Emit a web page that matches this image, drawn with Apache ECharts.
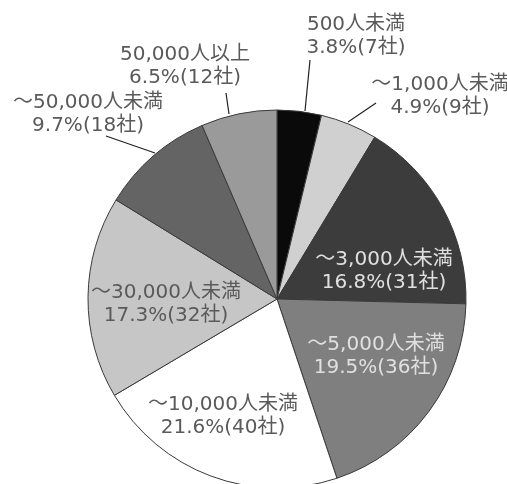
<!DOCTYPE html>
<html><head><meta charset="utf-8">
<script src="https://cdn.jsdelivr.net/npm/echarts@6/dist/echarts.min.js"></script>
<style>html,body{margin:0;padding:0;background:#fff}#c{width:507px;height:484px}</style>
</head><body><div id="c"></div>
<script>
const categories = ['500人未満','～1,000人未満','～3,000人未満','～5,000人未満','～10,000人未満','～30,000人未満','～50,000人未満','50,000人以上'];
const companies = [7, 9, 31, 36, 40, 32, 18, 12];
const shares = ['3.8', '4.9', '16.8', '19.5', '21.6', '17.3', '9.7', '6.5'];

const colors = ['#0a0a0a','#d0d0d0','#3c3c3c','#7f7f7f','#ffffff','#c6c6c6','#646464','#9a9a9a'];
const textColors = ['#5a5a5a','#5a5a5a','#e0e0e0','#e0e0e0','#5a5a5a','#5a5a5a','#5a5a5a','#5a5a5a'];
const labelPos = [[356,36],[440,96],[384,271],[376,356],[223,416],[166,304],[88,114],[185,66]];
const linePts = [[[305,111],[310,60]],[[348,122],[376,103]],null,null,null,null,[[155,153],[106,136]],[[229,114],[226,93]]];

const chart = echarts.init(document.getElementById('c'), null, {renderer:'canvas'});
chart.setOption({
  backgroundColor: '#fff',
  animation: false,
  series: [{
    type: 'pie',
    center: [277, 299],
    radius: 189,
    startAngle: 90,
    clockwise: true,
    avoidLabelOverlap: false,
    itemStyle: { borderColor: '#3a3a3a', borderWidth: 1 },
    label: {
      show: true,
      position: 'outside',
      fontFamily: '"DejaVu Sans", "Noto Sans CJK JP", sans-serif',
      fontSize: 20,
      lineHeight: 23,
      align: 'center',
      formatter: p => p.name + '\n' + shares[p.dataIndex] + '%(' + p.value + '社)'
    },
    labelLine: { show: true, lineStyle: { color: '#222', width: 1.2 }, length: 10, length2: 10 },
    labelLayout: p => {
      const i = p.dataIndex;
      const r = { x: labelPos[i][0], y: labelPos[i][1], align: 'center', verticalAlign: 'middle' };
      if (linePts[i]) r.labelLinePoints = linePts[i];
      return r;
    },
    data: categories.map((c, i) => ({
      name: c,
      value: companies[i],
      itemStyle: { color: colors[i] },
      label: { color: textColors[i] },
      labelLine: { show: !!linePts[i] }
    }))
  }]
});
</script></body></html>
